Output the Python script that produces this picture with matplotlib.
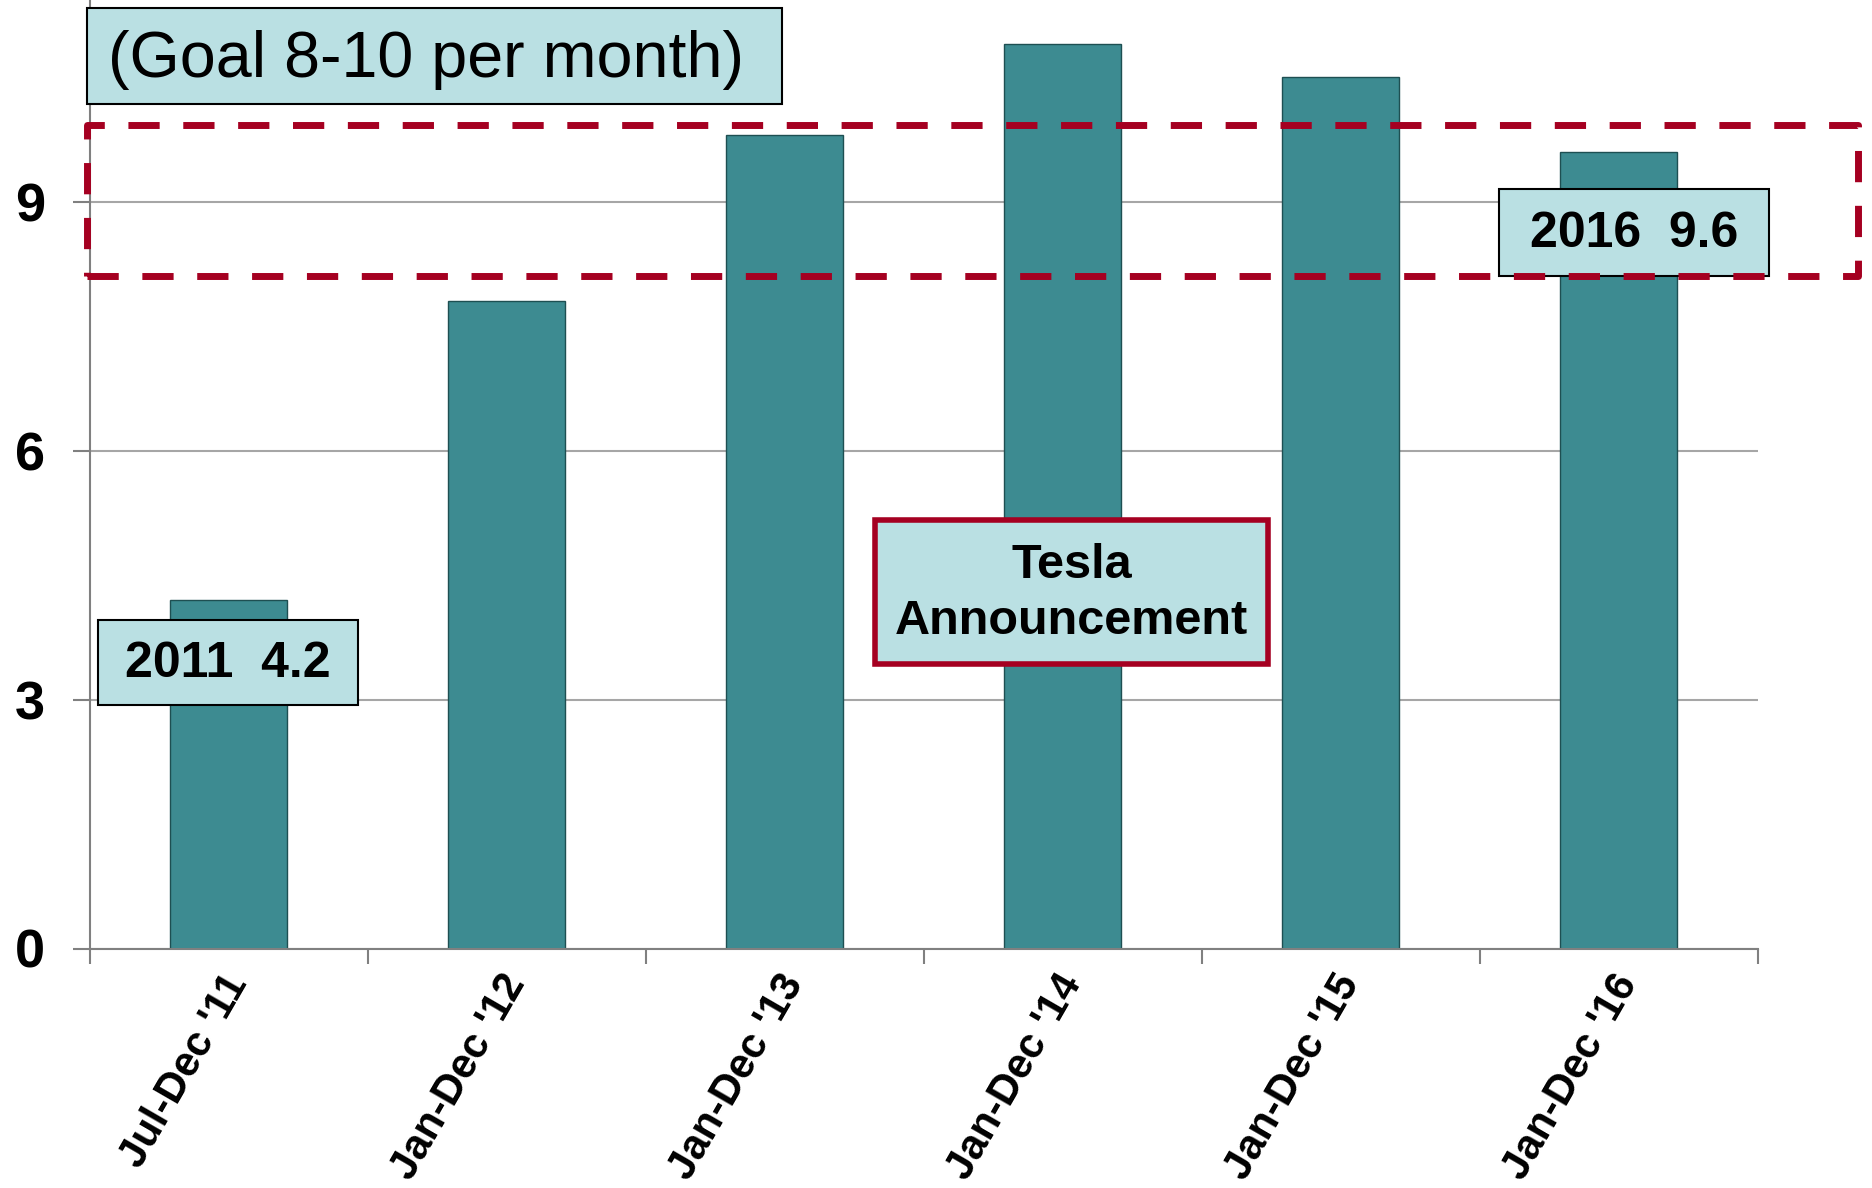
import matplotlib
matplotlib.use("Agg")
import matplotlib.pyplot as plt
from matplotlib.patches import Rectangle
from matplotlib.transforms import ScaledTranslation, blended_transform_factory

plt.rcParams['font.family'] = ['Liberation Sans', 'DejaVu Sans']

# ---- data ----
categories = ["Jul-Dec '11", "Jan-Dec '12", "Jan-Dec '13", "Jan-Dec '14", "Jan-Dec '15", "Jan-Dec '16"]
values = [4.2, 7.8, 9.8, 10.9, 10.5, 9.6]
yticks = [0, 3, 6, 9]
goal_text = "(Goal 8-10 per month)"
label_2011 = "2011  4.2"
label_2016 = "2016  9.6"
tesla_text = "Tesla\nAnnouncement"

BAR = "#3D8B91"
BOXFILL = "#BAE0E3"
RED = "#A50021"
GRID = "#A6A6A6"

W, H = 1872, 1188
fig = plt.figure(figsize=(W / 100, H / 100), dpi=100)
ax = fig.add_axes([89.5 / W, (H - 948.5) / H, 1668 / W, 948.5 / H])

x = list(range(len(categories)))
ax.bar(x, values, width=0.42, color=BAR, edgecolor="#1E4F52", linewidth=1.0, zorder=2)

ax.set_xlim(-0.5, len(categories) - 0.5)
ax.set_ylim(0, 11.43)

# y axis
ax.set_yticks(yticks)
ax.set_yticklabels([str(t) for t in yticks], fontsize=39, fontweight='bold')
ax.yaxis.grid(True, color=GRID, linewidth=1.5, zorder=0)
ax.tick_params(axis='y', length=12, width=1.5, color="#808080", pad=20)

# x axis: ticks at category boundaries, labels at centers
ax.set_xticks([i - 0.5 for i in range(len(categories) + 1)])
ax.set_xticklabels([])
ax.tick_params(axis='x', which='major', length=11, width=1.5, color="#808080")

trans = blended_transform_factory(ax.transData, ax.transAxes) + \
    ScaledTranslation(0.10, -0.285, fig.dpi_scale_trans)
for i, cat in enumerate(categories):
    ax.text(x[i], 0, cat, transform=trans, rotation=60, ha='right', va='center',
            rotation_mode='anchor', fontsize=30, fontweight='bold', clip_on=False)

for s in ['top', 'right']:
    ax.spines[s].set_visible(False)
for s in ['left', 'bottom']:
    ax.spines[s].set_color("#808080")
    ax.spines[s].set_linewidth(1.5)
ax.set_axisbelow(True)


def box(x0, x1, y0, y1, edge, lw, z):
    r = Rectangle((x0, y0), x1 - x0, y1 - y0, facecolor=BOXFILL, edgecolor=edge,
                  linewidth=lw, clip_on=False, zorder=z)
    ax.add_patch(r)


# Goal box
box(-0.508, 1.99, 10.18, 11.33, "black", 1.5, 5)
ax.text(-0.435, 10.71, goal_text, fontsize=46.5, ha='left', va='center', zorder=6, clip_on=False)

# 2011 box
box(-0.47, 0.467, 2.93, 3.96, "black", 1.5, 5)
ax.text((-0.47 + 0.467) / 2, 3.43, label_2011, fontsize=36, fontweight='bold',
        ha='center', va='center', zorder=6)

# 2016 box
box(4.57, 5.54, 8.10, 9.15, "black", 1.5, 5)
ax.text((4.57 + 5.54) / 2, 8.61, label_2016, fontsize=36, fontweight='bold',
        ha='center', va='center', zorder=6)

# Tesla box
box(2.326, 3.74, 3.43, 5.16, RED, 4.0, 5)
ax.text((2.326 + 3.74) / 2, 4.28, tesla_text, fontsize=35, fontweight='bold',
        ha='center', va='center', zorder=6, linespacing=1.3)

# Dashed goal-range rectangle
dr = Rectangle((-0.508, 8.10), 5.86 + 0.508, 9.92 - 8.10, facecolor='none', edgecolor=RED,
               linewidth=5, linestyle=(0, (4.5, 3.4)), clip_on=False, zorder=7,
               joinstyle='round')
ax.add_patch(dr)

fig.savefig("out.png", dpi=100)
